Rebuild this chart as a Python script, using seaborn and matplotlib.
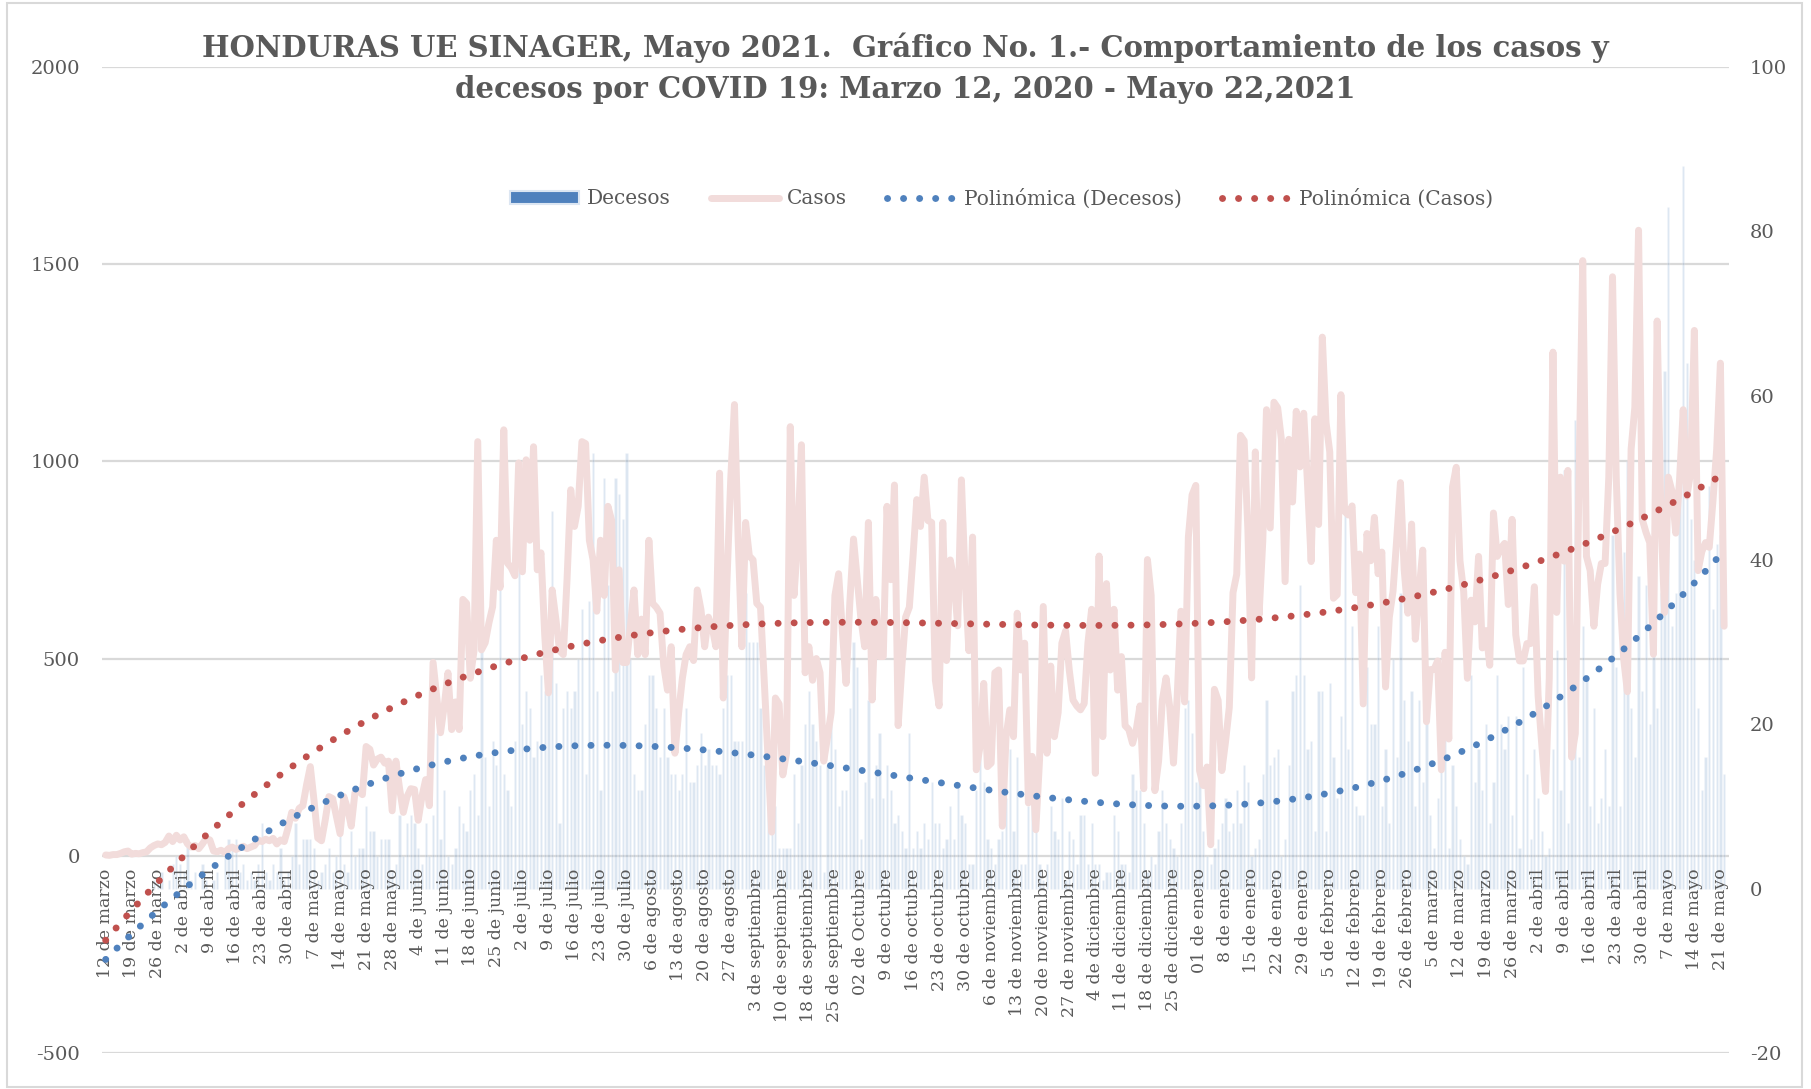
import numpy as np
import pandas as pd
import matplotlib
matplotlib.use("Agg")
import matplotlib.pyplot as plt
from matplotlib.lines import Line2D
from matplotlib.patches import Patch, Rectangle
import seaborn as sns

sns.set_theme(style="white")
plt.rcParams['font.family'] = ['DejaVu Serif']
plt.rcParams['axes.unicode_minus'] = False

# etiquetas del eje x (una cada 7 dias)
fechas = ["12 de marzo", "19 de marzo", "26 de marzo", "2 de abril", "9 de abril", "16 de abril",
          "23 de abril", "30 de abril", "7 de mayo", "14 de mayo", "21 de mayo", "28 de mayo",
          "4 de junio", "11 de junio", "18 de junio", "25 de junio", "2 de julio", "9 de julio",
          "16 de julio", "23 de julio", "30 de julio", "6 de agosto", "13 de agosto", "20 de agosto",
          "27 de agosto", "3 de septiembre", "10 de septiembre", "18 de septiembre", "25 de septiembre",
          "02 de Octubre", "9 de octubre", "16 de octubre", "23 de octubre", "30 de octubre",
          "6 de noviembre", "13 de noviembre", "20 de noviembre", "27 de noviembre", "4 de diciembre",
          "11 de diciembre", "18 de diciembre", "25 de diciembre", "01 de enero", "8 de enero",
          "15 de enero", "22 de enero", "29 de enero", "5 de febrero", "12 de febrero", "19 de febrero",
          "26 de febrero", "5 de marzo", "12 de marzo", "19 de marzo", "26 de marzo", "2 de abril",
          "9 de abril", "16 de abril", "23 de abril", "30 de abril", "7 de mayo", "14 de mayo",
          "21 de mayo"]

# casos diarios (eje izquierdo)
casos = [2, 1, 3, 3, 6, 10, 12,
         4, 6, 5, 8, 10, 20, 26,
         30, 28, 34, 50, 36, 52, 40,
         48, 30, 22, 26, 18, 30, 44,
         40, 12, 10, 14, 8, 18, 22,
         16, 20, 24, 18, 22, 26, 40,
         36, 42, 38, 44, 30, 40, 36,
         70, 110, 95, 120, 127, 180, 226,
         140, 45, 38, 90, 150, 145, 100,
         56, 150, 120, 75, 160, 165, 155,
         277, 270, 230, 245, 250, 235, 240,
         114, 240, 170, 110, 150, 170, 168,
         90, 150, 193, 127, 490, 400, 312,
         380, 464, 320, 390, 320, 650, 640,
         450, 520, 1050, 522, 540, 590, 631,
         800, 680, 1080, 742, 730, 710, 996,
         720, 1004, 800, 1037, 725, 768, 560,
         413, 674, 600, 520, 510, 700, 928,
         835, 886, 1050, 1045, 800, 750, 620,
         800, 660, 886, 850, 471, 725, 490,
         490, 580, 674, 510, 600, 510, 800,
         640, 630, 615, 481, 420, 530, 260,
         363, 450, 510, 530, 495, 674, 624,
         530, 605, 580, 530, 970, 400, 700,
         955, 1144, 800, 530, 845, 760, 750,
         640, 630, 445, 250, 60, 400, 385,
         205, 260, 1088, 660, 800, 1042, 464,
         530, 445, 500, 464, 240, 300, 363,
         660, 715, 570, 437, 640, 803, 700,
         600, 530, 845, 395, 650, 505, 505,
         886, 700, 940, 330, 480, 605, 630,
         760, 903, 835, 960, 850, 845, 445,
         380, 845, 495, 750, 700, 583, 953,
         700, 520, 808, 218, 277, 437, 226,
         235, 464, 471, 75, 302, 370, 302,
         615, 471, 539, 134, 252, 66, 243,
         632, 260, 481, 302, 363, 539, 570,
         470, 395, 380, 370, 386, 539, 625,
         209, 760, 302, 690, 471, 625, 420,
         505, 330, 320, 285, 320, 380, 170,
         751, 660, 165, 240, 394, 451, 376,
         235, 404, 620, 390, 808, 915, 939,
         216, 178, 225, 28, 422, 394, 216,
         290, 376, 667, 714, 1066, 1052, 826,
         451, 1024, 610, 798, 1131, 831, 1150,
         1136, 1056, 695, 1056, 897, 1127, 986,
         1122, 948, 746, 1108, 840, 1315, 1099,
         1024, 653, 662, 1169, 873, 864, 887,
         667, 765, 385, 817, 748, 858, 715,
         770, 428, 604, 670, 803, 946, 726,
         615, 841, 549, 670, 775, 340, 472,
         472, 494, 218, 516, 296, 935, 985,
         748, 670, 450, 648, 593, 759, 527,
         571, 483, 869, 759, 780, 792, 637,
         853, 560, 494, 494, 538, 538, 682,
         406, 280, 163, 450, 1277, 617, 960,
         747, 977, 250, 310, 960, 1509, 759,
         723, 582, 688, 741, 741, 960, 1468,
         960, 664, 499, 416, 1031, 1137, 1586,
         853, 820, 794, 511, 1356, 865, 617,
         960, 924, 818, 950, 1131, 912, 972,
         1332, 723, 771, 794, 782, 900, 1031,
         1249, 582]

# decesos diarios (eje derecho)
decesos = [0, 0, 0, 0, 0, 0, 0,
           0, 0, 0, 0, 0, 0, 1,
           1, 2, 0, 1, 3, 4, 3,
           2, 6, 1, 2, 0, 3, 1,
           0, 1, 2, 0, 5, 6, 5,
           6, 2, 3, 1, 2, 1, 3,
           8, 2, 1, 3, 2, 5, 1,
           2, 4, 8, 3, 6, 6, 6,
           5, 1, 2, 3, 5, 2, 4,
           7, 3, 2, 7, 4, 5, 5,
           10, 7, 7, 4, 6, 6, 6,
           2, 3, 9, 4, 8, 9, 8,
           5, 3, 8, 4, 9, 19, 6,
           12, 4, 3, 5, 10, 8, 7,
           12, 14, 9, 32, 16, 10, 18,
           15, 45, 14, 12, 10, 18, 45,
           20, 24, 22, 16, 18, 26, 24,
           26, 46, 25, 8, 22, 24, 22,
           24, 28, 34, 14, 35, 53, 24,
           12, 50, 37, 24, 50, 48, 45,
           53, 28, 14, 12, 12, 20, 26,
           26, 22, 16, 22, 16, 14, 14,
           12, 14, 22, 13, 13, 15, 19,
           15, 17, 15, 15, 14, 22, 26,
           26, 18, 18, 18, 36, 30, 30,
           30, 22, 15, 11, 11, 10, 5,
           5, 5, 5, 14, 8, 15, 20,
           24, 20, 18, 15, 2, 15, 22,
           17, 10, 12, 12, 22, 30, 27,
           6, 13, 23, 11, 15, 19, 11,
           15, 12, 8, 9, 7, 5, 19,
           5, 7, 5, 8, 6, 13, 8,
           8, 5, 6, 10, 6, 13, 9,
           8, 3, 3, 12, 17, 13, 6,
           5, 3, 6, 7, 11, 17, 7,
           16, 3, 3, 10, 14, 11, 3,
           1, 3, 10, 7, 6, 11, 1,
           7, 6, 3, 9, 9, 3, 8,
           3, 3, 1, 2, 2, 9, 7,
           3, 3, 2, 14, 12, 12, 8,
           2, 4, 3, 7, 12, 8, 6,
           5, 4, 8, 22, 23, 19, 13,
           15, 7, 4, 3, 5, 6, 8,
           11, 7, 8, 12, 8, 15, 13,
           4, 5, 6, 14, 23, 15, 16,
           17, 4, 6, 15, 24, 26, 37,
           26, 17, 18, 7, 24, 24, 7,
           25, 16, 11, 21, 46, 17, 32,
           10, 9, 9, 27, 20, 20, 32,
           10, 17, 8, 28, 16, 36, 23,
           18, 24, 10, 23, 13, 21, 9,
           5, 11, 16, 25, 5, 15, 10,
           6, 4, 3, 26, 13, 17, 12,
           20, 8, 13, 26, 20, 17, 21,
           9, 21, 5, 27, 14, 6, 17,
           11, 7, 4, 5, 17, 29, 12,
           51, 8, 21, 57, 16, 32, 26,
           10, 22, 8, 11, 17, 10, 43,
           27, 10, 41, 52, 22, 16, 38,
           24, 37, 20, 30, 22, 36, 63,
           83, 32, 36, 48, 88, 64, 45,
           40, 22, 12, 16, 49, 34, 42,
           43, 14]

df = pd.DataFrame({"dia": np.arange(len(casos)), "Casos": casos, "Decesos": decesos})

# lineas de tendencia polinomica (como en Excel, x = 1..n)
x1 = df["dia"] + 1
df["tend_casos"] = np.polyval(np.polyfit(x1, df["Casos"], 4), x1)
df["tend_decesos"] = np.polyval(np.polyfit(x1, df["Decesos"], 3), x1)

gris = "#595959"
azul = "#4F81BD"
rojo = "#C0504D"
rosa = "#F2DCDB"
linea = "#D9D9D9"
punteado = (0, (0.01, 2.3))

fig = plt.figure(figsize=(18.11, 10.89), dpi=100)
ax = fig.add_axes([0.0563, 0.0331, 0.8984, 0.9054])
ax2 = ax.twinx()
ax.set_zorder(2)
ax2.set_zorder(1)
ax.patch.set_visible(False)

lim_izq = (-500, 2000)
lim_der = (-20, 100)
ticks_izq = np.arange(-500, 2001, 500)

# lineas de cuadricula (detras de las barras)
for t in ticks_izq:
    r = lim_der[0] + (t - lim_izq[0]) / (lim_izq[1] - lim_izq[0]) * (lim_der[1] - lim_der[0])
    ax2.axhline(r, color=linea, lw=1.6, zorder=0)

sns.barplot(data=df, x="dia", y="Decesos", native_scale=True, ax=ax2, color=azul,
            alpha=0.2, saturation=1, width=0.6, errorbar=None, zorder=1)
sns.lineplot(data=df, x="dia", y="Casos", ax=ax, color=rosa, lw=5, zorder=2)
ax.plot(df["dia"], df["tend_casos"], color=rojo, lw=5, ls=punteado,
        dash_capstyle="round", zorder=4)
ax.plot(df["dia"], df["tend_decesos"], transform=ax2.transData, color=azul, lw=5,
        ls=punteado, dash_capstyle="round", zorder=4)

ax.set_xlim(-1, 436.3)
ax2.set_xlim(-1, 436.3)
ax.set_ylim(*lim_izq)
ax2.set_ylim(*lim_der)
ax.set_yticks(ticks_izq)
ax2.set_yticks(np.arange(-20, 101, 20))
ax.set_xticks(df["dia"][::7], fechas)

for a in (ax, ax2):
    a.set_xlabel("")
    a.set_ylabel("")
    a.grid(False)
    for s in a.spines.values():
        s.set_visible(False)
ax.spines["bottom"].set_position(("data", 0))

ax.tick_params(axis="x", rotation=90, length=0, pad=9, labelsize=12.5, labelcolor=gris)
ax.tick_params(axis="y", length=0, pad=16, labelsize=14, labelcolor=gris)
ax2.tick_params(axis="y", length=0, pad=15, labelsize=14, labelcolor=gris)

fig.text(0.5, 0.97,
         "HONDURAS UE SINAGER, Mayo 2021.  Gráfico No. 1.- Comportamiento de los casos y\n"
         "decesos por COVID 19: Marzo 12, 2020 - Mayo 22,2021",
         ha="center", va="top", fontsize=21, fontweight="bold", color=gris, linespacing=1.5)

handles = [Patch(facecolor=azul, edgecolor="#DCE6F2", lw=1.5),
           Line2D([], [], color=rosa, lw=5),
           Line2D([], [], color=azul, lw=5, ls=punteado, dash_capstyle="round"),
           Line2D([], [], color=rojo, lw=5, ls=punteado, dash_capstyle="round")]
labels = ["Decesos", "Casos", "Polinómica (Decesos)", "Polinómica (Casos)"]
fig.legend(handles, labels, loc="center", bbox_to_anchor=(0.553, 0.818), ncol=4,
           frameon=False, fontsize=14.5, handlelength=3.4, handleheight=0.6,
           handletextpad=0.4, columnspacing=2.0, labelcolor=gris)

fig.add_artist(Rectangle((0.004, 0.002), 0.991, 0.995, transform=fig.transFigure,
                         fill=False, ec=linea, lw=1.5))

fig.savefig("out.png", dpi=100)
